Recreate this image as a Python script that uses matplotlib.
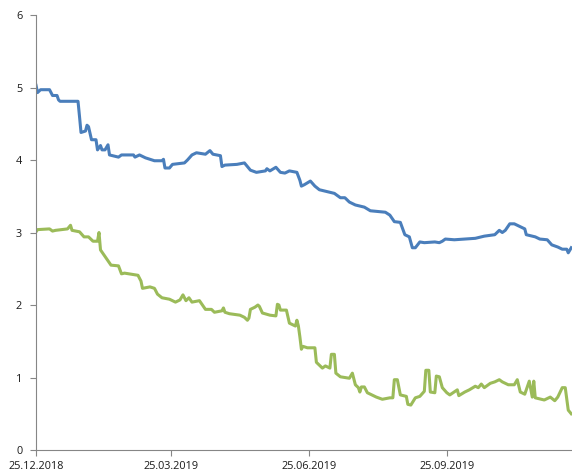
import matplotlib
matplotlib.use('Agg')
import matplotlib.pyplot as plt
import matplotlib.dates as mdates
import pandas as pd

start = pd.Timestamp('2018-12-25')

# days since 25.12.2018 and values
days_blue = [0, 1, 3, 9, 11, 14, 15, 16, 28, 29, 30, 33, 34, 35, 37, 40, 41, 43, 44, 46,
             48, 49, 55, 57, 65, 66, 69, 73, 79, 84, 85, 86, 89, 91, 99, 101, 104, 107, 113, 116,
             118, 123, 124, 126, 134, 139, 143, 147, 153, 154, 156, 160, 163, 166, 169, 174, 176, 177, 179, 183,
             186, 189, 193, 199, 203, 206, 209, 213, 219, 223, 233, 236, 239, 243, 246, 249, 251, 253, 256, 259,
             266, 269, 271, 273, 279, 286, 293, 299, 306, 309, 311, 313, 316, 319, 323, 326, 327, 333, 336, 341,
             344, 348, 351, 354, 355, 357]
blue = [5.03, 4.93, 4.97, 4.97, 4.89, 4.89, 4.83, 4.81, 4.81, 4.60, 4.38, 4.40, 4.48, 4.46, 4.28, 4.28, 4.14, 4.20, 4.14, 4.14,
        4.21, 4.07, 4.04, 4.07, 4.07, 4.04, 4.07, 4.03, 3.99, 3.99, 4.01, 3.89, 3.89, 3.94, 3.96, 4.00, 4.07, 4.10, 4.08, 4.13,
        4.08, 4.06, 3.91, 3.93, 3.94, 3.96, 3.86, 3.83, 3.85, 3.88, 3.85, 3.90, 3.83, 3.82, 3.85, 3.83, 3.72, 3.64, 3.66, 3.71,
        3.64, 3.59, 3.57, 3.54, 3.48, 3.48, 3.42, 3.38, 3.35, 3.30, 3.28, 3.24, 3.15, 3.14, 2.97, 2.94, 2.79, 2.79, 2.87, 2.86,
        2.87, 2.86, 2.88, 2.91, 2.90, 2.91, 2.92, 2.95, 2.97, 3.03, 3.00, 3.03, 3.12, 3.12, 3.08, 3.05, 2.97, 2.94, 2.91, 2.90,
        2.83, 2.80, 2.77, 2.77, 2.72, 2.79]

days_green = [0, 1, 9, 11, 13, 21, 23, 24, 29, 32, 35, 38, 41, 42, 43, 45, 48, 50, 55, 57,
              59, 68, 70, 71, 76, 79, 81, 84, 89, 93, 96, 98, 100, 102, 104, 109, 113, 117, 119, 124,
              125, 126, 129, 136, 139, 141, 142, 143, 146, 148, 149, 151, 156, 160, 161, 162, 163, 167, 169, 173,
              174, 175, 176, 177, 178, 181, 186, 187, 189, 191, 193, 196, 197, 199, 200, 203, 209, 211, 213, 215,
              216, 217, 219, 221, 224, 227, 231, 236, 238, 239, 241, 243, 247, 248, 250, 253, 256, 259, 260, 262,
              263, 266, 267, 269, 271, 274, 276, 281, 282, 286, 289, 293, 295, 297, 299, 303, 306, 309, 311, 315,
              319, 321, 323, 326, 329, 331, 332, 333, 339, 343, 346, 348, 351, 353, 355, 357]
green = [3.01, 3.04, 3.05, 3.02, 3.03, 3.05, 3.10, 3.03, 3.01, 2.94, 2.94, 2.88, 2.88, 3.00, 2.76, 2.70, 2.61, 2.55, 2.54, 2.43,
         2.44, 2.41, 2.33, 2.23, 2.25, 2.23, 2.15, 2.10, 2.08, 2.04, 2.07, 2.14, 2.06, 2.10, 2.04, 2.06, 1.94, 1.94, 1.90, 1.92,
         1.96, 1.90, 1.88, 1.86, 1.83, 1.79, 1.82, 1.94, 1.97, 2.00, 1.98, 1.89, 1.86, 1.85, 2.01, 2.00, 1.93, 1.93, 1.75, 1.71,
         1.79, 1.71, 1.56, 1.39, 1.43, 1.41, 1.41, 1.21, 1.17, 1.13, 1.16, 1.13, 1.32, 1.32, 1.06, 1.01, 0.99, 1.06, 0.90, 0.86,
         0.80, 0.87, 0.87, 0.79, 0.76, 0.73, 0.70, 0.72, 0.72, 0.97, 0.97, 0.76, 0.74, 0.63, 0.62, 0.72, 0.74, 0.81, 1.10, 1.10,
         0.80, 0.79, 1.02, 1.01, 0.86, 0.79, 0.76, 0.83, 0.75, 0.80, 0.83, 0.88, 0.86, 0.91, 0.86, 0.92, 0.94, 0.97, 0.94, 0.90,
         0.90, 0.97, 0.80, 0.77, 0.95, 0.73, 0.95, 0.72, 0.69, 0.73, 0.68, 0.73, 0.86, 0.86, 0.55, 0.50]

tick_dates = ['2018-12-25', '2019-03-25', '2019-06-25', '2019-09-25']

x_blue = start + pd.to_timedelta(days_blue, unit='D')
x_green = start + pd.to_timedelta(days_green, unit='D')

fig = plt.figure(figsize=(5.72, 4.74), dpi=100)
ax = fig.add_axes([0.063, 0.0506, 0.937, 0.9177])

ax.plot(x_blue, blue, color='#4A7EBB', linewidth=2.2, solid_joinstyle='round')
ax.plot(x_green, green, color='#9BBB59', linewidth=2.2, solid_joinstyle='round')

ax.set_ylim(0, 6)
ax.set_yticks(range(0, 7))
ax.set_xlim(start, start + pd.Timedelta(days=357.5))
ax.set_xticks(pd.to_datetime(tick_dates))
ax.xaxis.set_major_formatter(mdates.DateFormatter('%d.%m.%Y'))

for side in ['top', 'right']:
    ax.spines[side].set_visible(False)
for side in ['left', 'bottom']:
    ax.spines[side].set_color('#868686')
ax.tick_params(axis='both', colors='#868686', labelcolor='#1a1a1a', labelsize=7.8, length=4, width=0.8)
ax.tick_params(axis='y', pad=6)
ax.tick_params(axis='x', pad=4)
for lbl in ax.get_xticklabels() + ax.get_yticklabels():
    lbl.set_family('Open Sans')

fig.savefig('out.png', dpi=100)
